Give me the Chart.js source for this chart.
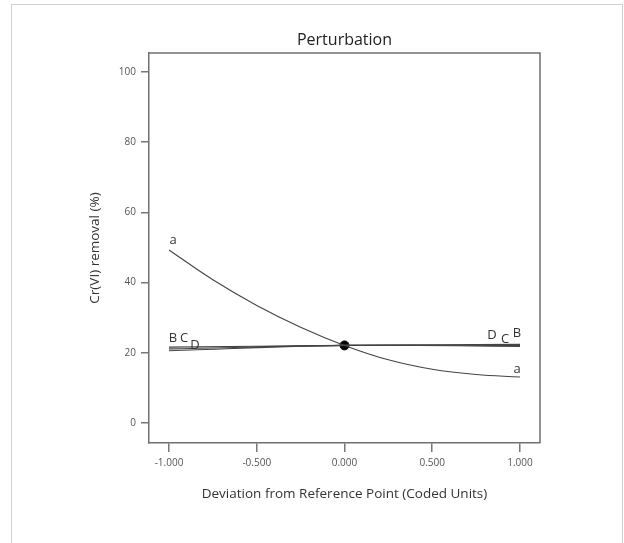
<!DOCTYPE html>
<html>
<head>
<meta charset="utf-8">
<title>Perturbation</title>
<script src="https://cdn.jsdelivr.net/npm/chart.js@4/dist/chart.umd.min.js"></script>
<style>
  html, body { margin:0; padding:0; background:#fff; }
  #wrap { position:relative; width:624px; height:543px; }
  #frame { position:absolute; left:11px; top:4px; right:1px; bottom:-2px; border:1px solid #d0d0d0; border-bottom:none; }
  canvas { position:absolute; left:0; top:0; }
</style>
</head>
<body>
<div id="wrap">
  <div id="frame"></div>
  <canvas id="chart" width="624" height="543"></canvas>
</div>
<script>
// factor levels in coded units
const xCurve = [-1, -0.75, -0.5, -0.25, 0, 0.25, 0.5, 0.75, 1];
const xLine = [-1, 0, 1];

// Cr(VI) removal (%)
const seriesA = [49.3, 40.8, 33.5, 27.3, 22.1, 18.0, 15.3, 13.8, 13.1];
const seriesB = [21.6, 22.1, 22.4];
const seriesC = [21.1, 22.1, 22.1];
const seriesD = [20.6, 22.1, 21.8];
const refPoint = [0, 22.1];

const xTicks = [-1, -0.5, 0, 0.5, 1];
const yTicks = [0, 20, 40, 60, 80, 100];

const titleText = 'Perturbation';
const xTitle = 'Deviation from Reference Point (Coded Units)';
const yTitle = 'Cr(VI) removal (%)';

const fontFam = '"Open Sans", "Noto Sans", sans-serif';
const lineCol = '#444';

const pts = (xs, ys) => xs.map((x, i) => ({ x, y: ys[i] }));

function lineSet(label, xs, ys){
  return {
    label,
    data: pts(xs, ys),
    borderColor: lineCol,
    borderWidth: 1.1,
    pointRadius: 0,
    tension: 0.4,
    fill: false
  };
}

// text labels next to the curve ends, offsets in px
const endLabels = [
  { ds: 0, end: 'first', text: 'a', dx: 4, dy: -10 },
  { ds: 0, end: 'last', text: 'a', dx: -3, dy: -8 },
  { ds: 1, end: 'first', text: 'B', dx: 4, dy: -9 },
  { ds: 2, end: 'first', text: 'C', dx: 15, dy: -11 },
  { ds: 3, end: 'first', text: 'D', dx: 26, dy: -5 },
  { ds: 3, end: 'last', text: 'D', dx: -28, dy: -11 },
  { ds: 2, end: 'last', text: 'C', dx: -15, dy: -6 },
  { ds: 1, end: 'last', text: 'B', dx: -3, dy: -11 }
];

const decor = {
  id: 'decor',
  afterDatasetsDraw(chart){
    const { ctx, chartArea: a, scales } = chart;
    ctx.save();
    // closing box on top and right
    ctx.strokeStyle = '#707070';
    ctx.lineWidth = 1.5;
    ctx.beginPath();
    ctx.moveTo(a.left, a.top);
    ctx.lineTo(a.right, a.top);
    ctx.lineTo(a.right, a.bottom);
    ctx.stroke();

    // curve labels
    ctx.fillStyle = '#333';
    ctx.font = '13px ' + fontFam;
    ctx.textBaseline = 'middle';
    ctx.textAlign = 'center';
    endLabels.forEach(l => {
      const d = chart.data.datasets[l.ds].data;
      const p = l.end === 'first' ? d[0] : d[d.length - 1];
      const px = scales.x.getPixelForValue(p.x);
      const py = scales.y.getPixelForValue(p.y);
      ctx.fillText(l.text, px + l.dx, py + l.dy);
    });

    // titles
    ctx.fillStyle = '#222';
    ctx.font = '16px ' + fontFam;
    ctx.fillText(titleText, (a.left + a.right) / 2, 40);
    ctx.fillStyle = '#333';
    ctx.font = '13.5px ' + fontFam;
    ctx.fillText(xTitle, (a.left + a.right) / 2, 494);
    ctx.translate(95, (a.top + a.bottom) / 2);
    ctx.rotate(-Math.PI / 2);
    ctx.fillText(yTitle, 0, 0);
    ctx.restore();
  }
};

new Chart(document.getElementById('chart'), {
  type: 'line',
  data: {
    datasets: [
      lineSet('a', xCurve, seriesA),
      lineSet('B', xLine, seriesB),
      lineSet('C', xLine, seriesC),
      lineSet('D', xLine, seriesD),
      {
        label: 'ref',
        data: [{ x: refPoint[0], y: refPoint[1] }],
        showLine: false,
        pointRadius: 4.5,
        pointBackgroundColor: '#000',
        pointBorderColor: '#000'
      }
    ]
  },
  options: {
    responsive: false,
    animation: false,
    layout: { padding: { top: 53, right: 84, left: 0, bottom: 0 } },
    plugins: { legend: { display: false }, tooltip: { enabled: false } },
    scales: {
      x: {
        type: 'linear',
        min: -1.114,
        max: 1.114,
        afterBuildTicks: s => { s.ticks = xTicks.map(v => ({ value: v })); },
        afterFit: s => { s.height = 100; },
        grid: { drawOnChartArea: false, drawTicks: true, tickLength: 9, color: '#777', lineWidth: 1.5 },
        border: { display: true, color: '#707070', width: 1.5 },
        ticks: {
          padding: 5,
          color: '#555',
          font: { family: fontFam, size: 10 },
          maxRotation: 0,
          callback: v => v.toFixed(3)
        }
      },
      y: {
        min: -5.7,
        max: 105.4,
        afterBuildTicks: s => { s.ticks = yTicks.map(v => ({ value: v })); },
        afterFit: s => { s.width = 149; },
        grid: { drawOnChartArea: false, drawTicks: true, tickLength: 8, color: '#777', lineWidth: 1.5 },
        border: { display: true, color: '#707070', width: 1.5 },
        ticks: {
          padding: 5,
          color: '#555',
          font: { family: fontFam, size: 10 }
        }
      }
    }
  },
  plugins: [decor]
});
</script>
</body>
</html>
